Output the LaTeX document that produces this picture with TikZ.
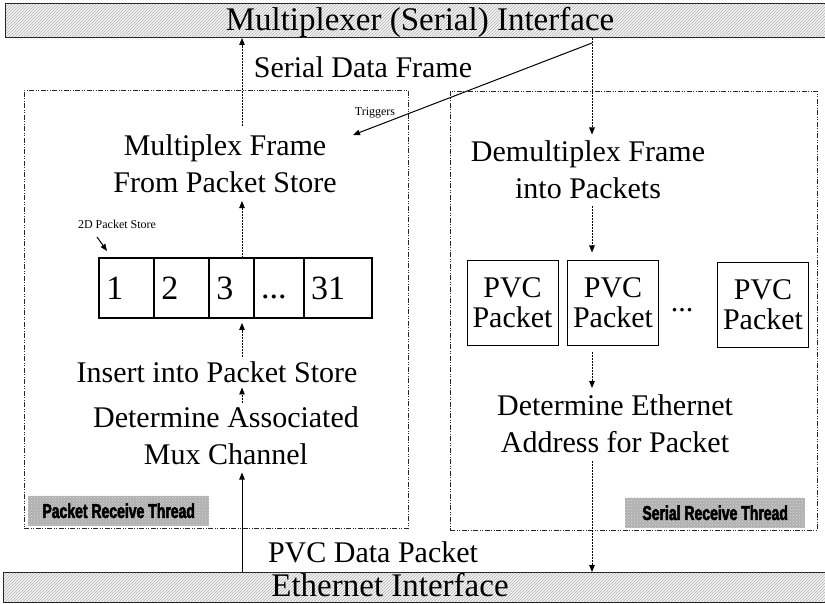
\documentclass[tikz,border=0pt]{standalone}
\usepackage{fontspec}
\setmainfont{Liberation Serif}
\newfontfamily\threadfont{Liberation Sans}[FakeStretch=0.7,FakeBold=2.5]
\usetikzlibrary{patterns,arrows.meta,calc}
\begin{document}
\begin{tikzpicture}[x=1pt,y=-1pt,
  bar/.style={draw=black!85,line width=1pt,preaction={fill=gray!8},pattern=north east lines,pattern color=gray!60,inner sep=0pt},
  bartext/.style={inner sep=0pt,font=\fontsize{#1}{36}\selectfont},
  big/.style={inner sep=0pt,align=center,font=\fontsize{30}{#1}\selectfont},
  big/.default=35,
  small/.style={inner sep=0pt,font=\fontsize{12}{14}\selectfont},
  threadbox/.style={draw=black!85,line width=0.8pt,dash pattern=on 5pt off 1.5pt on 1pt off 1.5pt on 1pt off 1.5pt,inner sep=0pt},
  threadlabel/.style={preaction={fill=gray!62},pattern=crosshatch dots,pattern color=gray!30,inner sep=0pt,font=\threadfont\bfseries\fontsize{20}{20}\selectfont},
  cell/.style={draw,line width=0.9pt,minimum height=59,inner xsep=7pt,inner ysep=0pt,align=left,text width=#1,font=\fontsize{34}{36}\selectfont},
  pvc/.style={draw,line width=1pt,minimum width=91,minimum height=84,inner sep=0pt,align=center,font=\fontsize{30}{30}\selectfont},
  flow/.style={line width=0.8pt,dash pattern=on 2pt off 1pt,-{Triangle[length=7pt,width=5.5pt]}},
  solidflow/.style={line width=0.7pt,-{Triangle[length=7pt,width=5.5pt]}},
  trig/.style={line width=1pt,-{Triangle[length=7pt,width=5.5pt]}}
]
\useasboundingbox (0,0) rectangle (825,604);

% interface bars
\node[bar,minimum width=830,minimum height=34,anchor=north west] (top) at (5,3) {};
\node[bartext=33,anchor=base] (toptext) at (420,31) {Multiplexer (Serial) Interface};
\node[bar,minimum width=830,minimum height=30,anchor=north west] (bot) at (3,572) {};
\node[bartext=33,anchor=base] (bottext) at (390,596) {Ethernet Interface};

% thread boxes
\node[threadbox,minimum width=384,minimum height=438,anchor=north west] (lbox) at (24,90) {};
\node[threadbox,minimum width=367,minimum height=439,anchor=north west] (rbox) at (450,91) {};
\node[threadlabel,minimum width=181,minimum height=30,anchor=south west] (plabel) at (28,526) {Packet Receive Thread};
\node[threadlabel,minimum width=180,minimum height=30,anchor=south west] (slabel) at (625,528) {Serial Receive Thread};

% free labels
\node[big,anchor=base] (sdf) at (363,78) {Serial Data Frame};
\node[big,anchor=base] (pdp) at (373,562) {PVC Data Packet};
\node[small] (trtext) at (375,113) {Triggers};
\node[small] (pst) at (117,224) {2D Packet Store};

% left thread
\node[big=37,anchor=north] (mf) at (225,134.5) {Multiplex Frame\\From Packet Store};
\node[cell=40,anchor=north west] (c1) at (99,258) {1};
\node[cell=40,anchor=north west] (c2) at (c1.north east) {2};
\node[cell=30,anchor=north west] (c3) at (c2.north east) {3};
\node[cell=35,anchor=north west] (c4) at (c3.north east) {\vphantom{1}...};
\node[cell=53,anchor=north west] (c5) at (c4.north east) {31};
\draw[line width=2pt] (c1.north west) rectangle (c5.south east);
\node[big,anchor=base] (ins) at (217,382) {Insert into Packet Store};
\node[big=37,anchor=north] (det) at (226,406) {Determine Associated\\Mux Channel};

% right thread
\node[big=37,anchor=north] (dm) at (588,140.5) {Demultiplex Frame\\into Packets};
\node[pvc] (p1) at (512.5,303) {PVC\\Packet};
\node[pvc] (p2) at (613,303) {PVC\\Packet};
\node[big,anchor=base] (pdots) at (682,312) {...};
\node[pvc] (p3) at (763,305) {PVC\\Packet};
\node[big=37,anchor=north] (de) at (615,394) {Determine Ethernet\\Address for Packet};

% connectors
\coordinate (ax) at (242,0);
\coordinate (bx) at (592,0);
\draw[flow,shorten <=8pt] (mf.north -| ax) -- (top.south -| ax);
\draw[flow,shorten >=8pt] (c3.north -| ax) -- (mf.south -| ax);
\draw[flow,shorten <=4pt,shorten >=5pt] (ins.north -| ax) -- (c3.south -| ax);
\draw[flow,shorten <=3pt,shorten >=5pt] (det.north -| ax) -- (ins.south -| ax);
\draw[solidflow,shorten >=8pt] (bot.north -| ax) -- (det.south -| ax);

\draw[flow,shorten >=6pt] (top.south -| bx) -- (dm.north -| bx);
\draw[flow,shorten <=7pt,shorten >=8pt] (dm.south -| bx) -- (p2.north -| bx);
\draw[flow,shorten <=6pt,shorten >=6pt] (p2.south -| bx) -- (de.north -| bx);
\draw[flow,shorten <=8pt] (de.south -| bx) -- (bot.north -| bx);

\coordinate (trs) at (592,43);
\coordinate (tre) at (353,135);
\draw[trig] (trs) -- (tre);
\coordinate (psa) at (97,237);
\draw[trig] (psa) -- ($(c1.north west)+(8,-7)$);
\end{tikzpicture}
\end{document}
